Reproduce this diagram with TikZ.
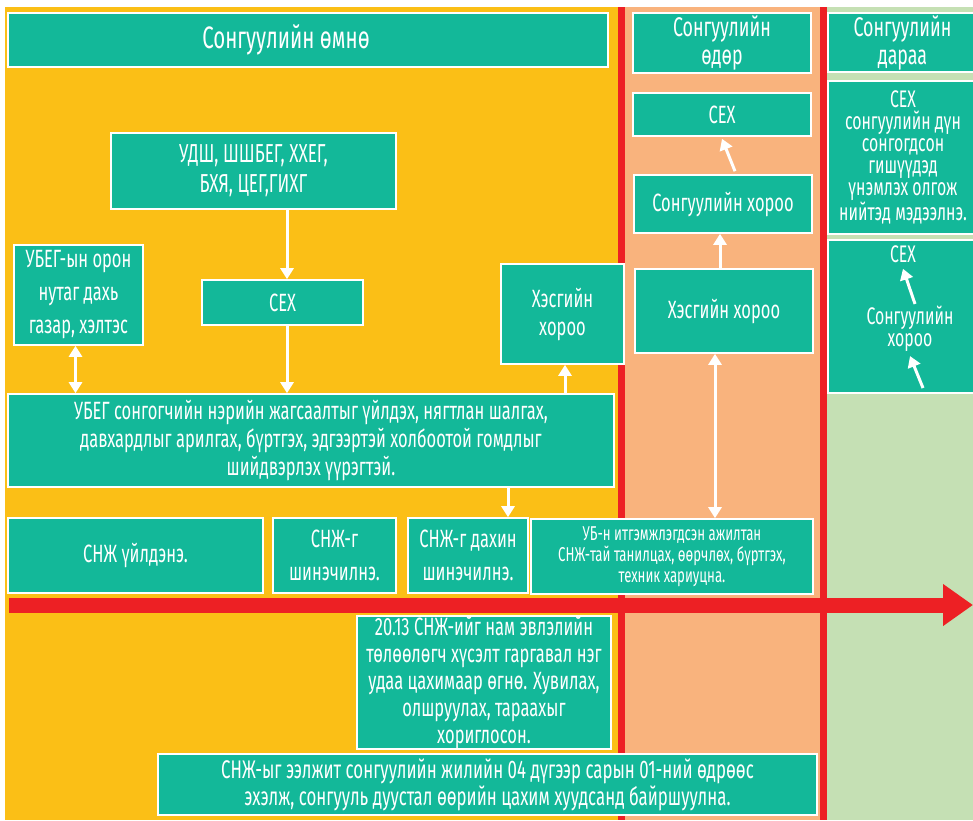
\documentclass[tikz,border=0pt]{standalone}
\usepackage{fontspec}
\setmainfont{Fira Sans}[FakeStretch=0.66]
\usetikzlibrary{arrows.meta}
\definecolor{bgyellow}{RGB}{251,191,22}
\definecolor{bgpeach}{RGB}{249,179,125}
\definecolor{bggreen}{RGB}{197,224,180}
\definecolor{axisred}{RGB}{237,32,36}
\definecolor{boxgreen}{RGB}{19,184,153}
\pgfdeclarelayer{bg}
\pgfsetlayers{bg,main}

\begin{document}
\begin{tikzpicture}[
        x=1pt, y=-1pt,
        box/.style={draw=white, line width=1.6pt, fill=boxgreen, text=white,
            inner sep=0pt, align=center, font=\fontsize{25}{28}\selectfont},
        word/.style={text=white, inner sep=0pt, align=center, font=\fontsize{24}{22}\selectfont},
        link/.style={draw=white, line width=3pt},
        arr/.style={link, -{Triangle[width=13pt,length=11pt]}},
        twoway/.style={link, {Triangle[width=13pt,length=11pt]}-{Triangle[width=13pt,length=11pt]}},
    ]
    \clip (0,0) rectangle (973,820);
    % columns
    \fill[white] (0,0) rectangle (973,820);
    \fill[bgyellow] (5,7) rectangle (621,820);
    \fill[bgpeach] (621,7) rectangle (823,820);
    \fill[bggreen] (823,7) rectangle (973,820);
    \fill[axisred] (618,7) rectangle (625,820);
    \fill[axisred] (820,7) rectangle (827,820);

    % before the election
    \node[box, minimum width=600pt, minimum height=54pt, font=\fontsize{31}{32}\selectfont] (pre) at (308,40) {Сонгуулийн өмнө\hspace*{44pt}};
    \node[box, minimum width=285pt, minimum height=76pt, font=\fontsize{26}{30}\selectfont] (udsh) at (253.5,171) {УДШ, ШШБЕГ, ХХЕГ,\\БХЯ, ЦЕГ,ГИХГ};
    \node[box, minimum width=129pt, minimum height=100pt, font=\fontsize{25}{33}\selectfont] (ubegloc) at (78.5,295) {УБЕГ-ын орон\\нутаг дахь\\газар, хэлтэс};
    \node[box, minimum width=161pt, minimum height=45pt] (cex) at (282.5,302.5) {СЕХ};
    \node[box, minimum width=123pt, minimum height=100pt] (prec) at (562.5,314) {Хэсгийн\\хороо};
    \node[box, minimum width=606pt, minimum height=93pt] (main) at (311,440.5) {УБЕГ сонгогчийн нэрийн жагсаалтыг үйлдэх, нягтлан шалгах,\\давхардлыг арилгах, бүртгэх, эдгээртэй холбоотой гомдлыг\\шийдвэрлэх үүрэгтэй.};
    \node[box, minimum width=255pt, minimum height=75pt] (snj1) at (135.5,555.5) {СНЖ үйлдэнэ.};
    \node[box, minimum width=123pt, minimum height=75pt, font=\fontsize{25}{33}\selectfont] (snj2) at (334.5,555.5) {СНЖ-г\\шинэчилнэ.};
    \node[box, minimum width=120pt, minimum height=75pt, font=\fontsize{25}{33}\selectfont] (snj3) at (468,555.5) {СНЖ-г дахин\\шинэчилнэ.};
    \node[box, minimum width=282pt, minimum height=75pt, font=\fontsize{20}{21}\selectfont] (ub) at (672,556.5) {УБ-н итгэмжлэгдсэн ажилтан\\СНЖ-тай танилцах, өөрчлөх, бүртгэх,\\техник хариуцна.};
    \node[box, minimum width=254pt, minimum height=131pt, font=\fontsize{25}{27}\selectfont] (law) at (484,682.5) {20.13 СНЖ-ийг нам эвлэлийн\\төлөөлөгч хүсэлт гаргавал нэг\\удаа цахимаар өгнө. Хувилах,\\олшруулах, тараахыг\\хориглосон.};
    \node[box, minimum width=659pt, minimum height=61pt, font=\fontsize{25.5}{27}\selectfont] (bottom) at (487.5,784.5) {СНЖ-ыг ээлжит сонгуулийн жилийн 04 дүгээр сарын 01-ний өдрөөс\\эхэлж, сонгууль дуустал өөрийн цахим хуудсанд байршуулна.};

    % election day
    \node[box, minimum width=178pt, minimum height=60pt, font=\fontsize{27}{28}\selectfont] (day) at (722,43) {Сонгуулийн\\өдөр};
    \node[box, minimum width=178pt, minimum height=43pt] (daycex) at (722,114.5) {СЕХ};
    \node[box, minimum width=178pt, minimum height=58pt] (daycom) at (723,204) {Сонгуулийн хороо};
    \node[box, minimum width=178pt, minimum height=84pt] (dayprec) at (724,311) {Хэсгийн хороо};

    % after the election
    \node[box, minimum width=149pt, minimum height=59pt, font=\fontsize{27}{28}\selectfont] (after) at (902.5,42.5) {Сонгуулийн\\дараа};
    \node[box, minimum width=150pt, minimum height=153pt, font=\fontsize{24}{22}\selectfont] (afterres) at (903,157.5) {СЕХ\\сонгуулийн дүн\\сонгогдсон\\гишүүдэд\\үнэмлэх олгож\\нийтэд мэдээлнэ.};
    \node[box, minimum width=150pt, minimum height=153pt] (afterflow) at (903,316.5) {};
    \node[word] (aftercex) at (903,254) {СЕХ};
    \node[word] (aftercom) at (910,329) {Сонгуулийн\\хороо};
    \coordinate (afterfoot) at (923,388);

    % lines behind the boxes
    \coordinate (toprule) at (408,130);
    \begin{pgfonlayer}{bg}
        \draw[link] (main.south -| bottom.north west) -- (bottom.north west);
        \draw[link] (main.south -| snj1.north east) -- (snj1.north east);
        \draw[link] (toprule) -- (snj3.north west);
    \end{pgfonlayer}

    % arrows
    \draw[arr] ([xshift=33.5pt]udsh.south) -- ([xshift=4.5pt]cex.north);
    \draw[arr] ([xshift=4.5pt]cex.south) -- ([xshift=4.5pt]cex.south |- main.north);
    \draw[twoway] ([xshift=-3pt]ubegloc.south) -- ([xshift=-3pt]ubegloc.south |- main.north);
    \draw[arr] ([xshift=2.5pt]prec.south |- main.north) -- ([xshift=2.5pt]prec.south);
    \draw[arr] ([xshift=40pt]snj3.north |- main.south) -- ([xshift=40pt]snj3.north);
    \draw[twoway] ([xshift=-9pt]dayprec.south) -- ([xshift=-9pt]dayprec.south |- ub.north);
    \draw[arr] ([xshift=-4pt]dayprec.north) -- ([xshift=-4pt]dayprec.north |- daycom.south);
    \draw[arr] ([xshift=12pt,yshift=3pt]daycom.north) -- ([yshift=-2pt]daycex.south);
    \draw[arr] ([xshift=5pt,yshift=2pt]aftercom.north) -- ([yshift=-6pt]aftercex.south);
    \draw[arr] (afterfoot) -- ([yshift=-4pt]aftercom.south);

    % time axis
    \coordinate (axisstart) at (9,605);
    \coordinate (axisend) at (973,605);
    \draw[axisred, line width=15pt, -{Triangle[width=40pt,length=30pt]}] (axisstart) -- (axisend);
\end{tikzpicture}
\end{document}
